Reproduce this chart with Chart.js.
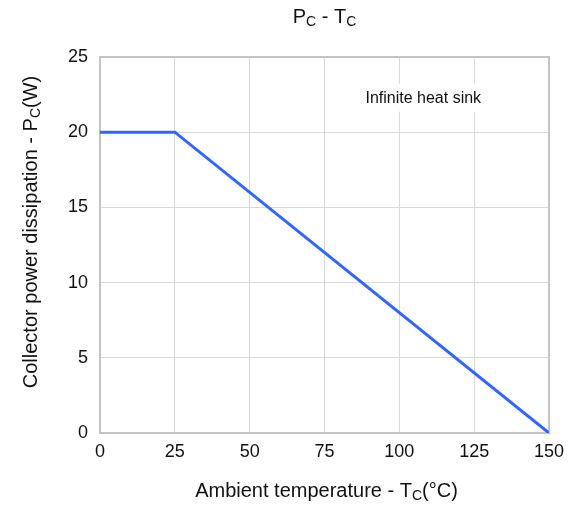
<!DOCTYPE html>
<html lang="en">
<head>
    <meta charset="UTF-8">
    <title>PC - TC</title>
    <script src="https://cdn.jsdelivr.net/npm/chart.js"></script>
    <style>
        body { margin: 0; background: #fff; }
        #chart { display: block; }
    </style>
</head>
<body>
    <canvas id="chart" width="572" height="505"></canvas>

    <script>
        // Derating curve: collector power vs case temperature
        const tempC = [0, 25, 150];
        const powerW = [20, 20, 0];

        // Axis ticks
        const xTicks = [0, 25, 50, 75, 100, 125, 150];
        const yTicks = [0, 5, 10, 15, 20, 25];

        // Note inside the plot (data coordinates)
        const noteText = 'Infinite heat sink';
        const noteX = 108;
        const noteY = 22.3;

        const FONT = '"Liberation Sans", Arial, sans-serif';
        const TEXT = '#111';

        // draw text made of normal + subscript parts, centred on (cx, y)
        function drawRich(ctx, parts, cx, y, size, rotate) {
            const subSize = Math.round(size * 0.7);
            ctx.save();
            ctx.fillStyle = TEXT;
            ctx.textBaseline = 'alphabetic';
            ctx.textAlign = 'left';
            let total = 0;
            parts.forEach(p => {
                ctx.font = (p.sub ? subSize : size) + 'px ' + FONT;
                p.w = ctx.measureText(p.t).width;
                total += p.w;
            });
            ctx.translate(cx, y);
            if (rotate) ctx.rotate(-Math.PI / 2);
            let x = -total / 2;
            parts.forEach(p => {
                ctx.font = (p.sub ? subSize : size) + 'px ' + FONT;
                ctx.fillText(p.t, x, p.sub ? 3 : 0);
                x += p.w;
            });
            ctx.restore();
        }

        const titlesPlugin = {
            id: 'titles',
            beforeDatasetsDraw(chart) {
                // frame round the plot area
                const { ctx, chartArea: a } = chart;
                ctx.save();
                ctx.strokeStyle = '#c4c4c4';
                ctx.lineWidth = 2;
                ctx.strokeRect(a.left, a.top, a.right - a.left, a.bottom - a.top);

                // note with white background
                const px = chart.scales.x.getPixelForValue(noteX);
                const py = chart.scales.y.getPixelForValue(noteY);
                ctx.font = '16px ' + FONT;
                const w = ctx.measureText(noteText).width;
                ctx.fillStyle = '#fff';
                ctx.fillRect(px - w / 2 - 2, py - 14, w + 4, 28);
                ctx.fillStyle = TEXT;
                ctx.textAlign = 'center';
                ctx.textBaseline = 'middle';
                ctx.fillText(noteText, px, py + 1);
                ctx.restore();
            },
            afterDraw(chart) {
                const { ctx, chartArea: a } = chart;
                const cx = (a.left + a.right) / 2;
                drawRich(ctx, [
                    { t: 'P' }, { t: 'C', sub: true }, { t: ' - T' }, { t: 'C', sub: true }
                ], cx, 23, 20, false);
                drawRich(ctx, [
                    { t: 'Ambient temperature - T' }, { t: 'C', sub: true }, { t: '(°C)' }
                ], cx + 2, 497, 20, false);
                drawRich(ctx, [
                    { t: 'Collector power dissipation - P' }, { t: 'C', sub: true }, { t: '(W)' }
                ], 37, (a.top + a.bottom) / 2 - 13, 20, true);
            }
        };

        const ctx = document.getElementById('chart').getContext('2d');
        new Chart(ctx, {
            type: 'line',
            data: {
                datasets: [{
                    data: tempC.map((t, i) => ({ x: t, y: powerW[i] })),
                    borderColor: '#3366ff',
                    borderWidth: 3,
                    pointRadius: 0,
                    fill: false,
                    tension: 0
                }]
            },
            options: {
                responsive: false,
                animation: false,
                layout: { padding: { top: 57, right: 21, left: 0, bottom: 0 } },
                plugins: {
                    legend: { display: false },
                    tooltip: { enabled: false }
                },
                scales: {
                    x: {
                        type: 'linear',
                        min: xTicks[0],
                        max: xTicks[xTicks.length - 1],
                        afterFit: s => { s.height = 72; },
                        afterBuildTicks: s => { s.ticks = xTicks.map(v => ({ value: v })); },
                        grid: { color: '#d9d9d9', lineWidth: 1, drawTicks: false },
                        border: { display: false },
                        ticks: { color: TEXT, font: { family: FONT, size: 18 }, padding: 8 }
                    },
                    y: {
                        min: yTicks[0],
                        max: yTicks[yTicks.length - 1],
                        afterFit: s => { s.width = 100; },
                        afterBuildTicks: s => { s.ticks = yTicks.map(v => ({ value: v })); },
                        grid: { color: '#d9d9d9', lineWidth: 1, drawTicks: false },
                        border: { display: false },
                        ticks: { color: TEXT, font: { family: FONT, size: 18 }, padding: 12 }
                    }
                }
            },
            plugins: [titlesPlugin]
        });
    </script>
</body>
</html>
